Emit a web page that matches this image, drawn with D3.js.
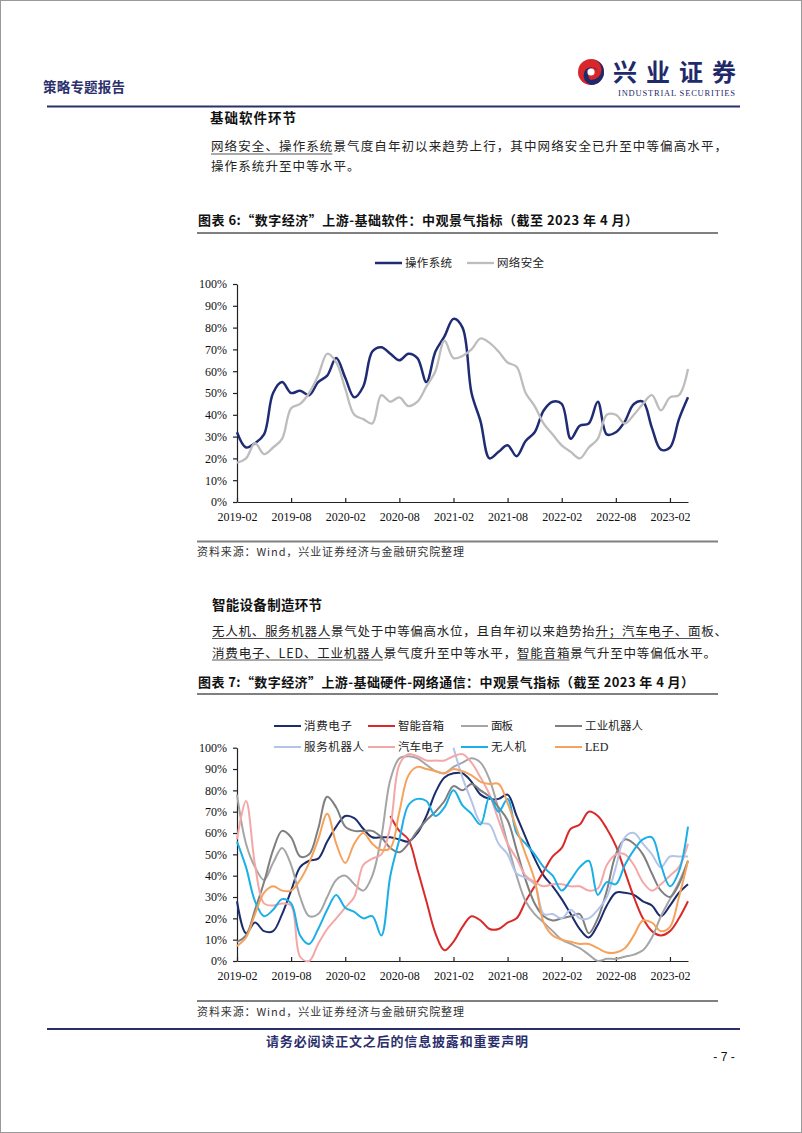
<!DOCTYPE html>
<html><head><meta charset="utf-8">
<script src="https://cdn.jsdelivr.net/npm/d3@7"></script>
<style>body{margin:0;background:#fff}svg{display:block}</style>
</head><body>
<script>
// ---------- data ----------
const months = d3.timeMonth.range(new Date(2019,1,1), new Date(2023,4,1)); // 2019-02 .. 2023-04
const tickLabels = ["2019-02","2019-08","2020-02","2020-08","2021-02","2021-08","2022-02","2022-08","2023-02"];
const tickIndex = [0,6,12,18,24,30,36,42,48];
const yTicks = [0,10,20,30,40,50,60,70,80,90,100];

// Chart 6
const osValues = [32,25,27,31,50,55,50,51,49,55,58,66,57,48,53,69,71,68,65,68,66,55,69,76,84,80,50,37,20,23,26,21,28,32,42,46,45,29,35,36,46,31,32,37,45,46,34,24,25,38,48];
const netSecValues = [18,20,27,22,25,29,43,45,50,58,68,64,52,40,38,36,49,46,48,44,46,53,60,74,66,67,70,75,73,69,64,62,50,44,36,31,26,23,20,25,29,40,40,36,40,45,49,42,48,49,61];

// Chart 7
const consumerElec = [28,13,18,14,14,22,33,44,47,48,56,63,68,67,62,58,58,58,57,56,60,68,79,86,88,88,84,78,76,76,78,68,58,48,40,35,29,22,15,11,17,26,32,32,31,28,26,21,26,32,36];
const smartSpeaker = [null,null,null,null,null,null,null,null,null,null,null,null,null,null,null,null,null,
  68,61,57,43,28,13,5,9,16,21,19,15,15,18,20,28,35,42,49,53,62,64,70,68,62,54,42,30,20,14,12,14,20,28];
const panel = [78,55,44,38,46,53,45,30,21,22,30,38,40,36,33,40,58,85,95,96,95,92,89,88,91,93,95,93,85,71,55,40,28,22,18,14,10,8,6,3,0,1,1,2,3,5,11,21,29,37,47];
const industrialRobot = [9,12,24,37,52,61,58,49,50,62,77,72,63,61,61,61,58,53,51,55,61,66,70,75,82,80,83,80,77,72,66,52,38,27,21,19,20,21,22,13,20,33,50,57,55,50,41,33,30,36,47];
const serviceRobot = [null,null,null,null,null,null,null,null,null,null,null,null,null,null,null,null,null,null,null,null,null,null,null,null,
  100,86,75,65,64,55,50,41,39,36,22,22,20,24,20,20,24,30,44,58,60,55,50,44,49,49,49];
const autoElec = [57,75,45,27,26,27,26,2,0,8,15,20,25,30,45,48,50,63,92,97,96,94,94,94,96,97,93,86,78,66,55,48,40,37,35,36,36,35,35,33,34,45,50,50,45,37,33,36,40,44,55];
const drone = [56,44,28,21,24,29,27,12,8,15,24,31,25,23,20,21,12,40,57,73,76,75,68,72,80,73,69,64,77,70,76,60,55,50,44,40,33,38,44,47,31,37,36,45,52,57,58,45,35,42,63];
const led = [7,11,22,32,35,33,33,38,46,57,69,55,46,55,60,55,52,53,70,87,91,90,89,88,90,89,87,84,83,83,74,62,50,38,18,12,10,9,8,8,6,4,4,6,12,19,18,14,16,30,47];

const chart6Names = ["操作系统","网络安全"];
const chart7Names = ["消费电子","智能音箱","面板","工业机器人","服务机器人","汽车电子","无人机","LED"];

// ---------- page ----------
const W=802,H=1133;
const CJK="'Noto Sans CJK SC','Noto Sans CJK JP',sans-serif";
const SERIF="'Liberation Serif','Times New Roman',serif";
const NAVY="#2b2f6b";
const svg=d3.select("body").append("svg").attr("width",W).attr("height",H);
svg.append("rect").attr("x",0.5).attr("y",0.5).attr("width",W-1).attr("height",H-1)
  .attr("fill","#fff").attr("stroke","#9a9a9a").attr("stroke-width",1);

function txt(x,y,s,o={}){
  const t=svg.append("text").attr("x",x).attr("y",y).text(s)
    .attr("font-family",o.family||CJK).attr("font-size",o.size||13)
    .attr("font-weight",o.weight||400).attr("fill",o.fill||"#1a1a1a");
  if(o.len) t.attr("textLength",o.len).attr("lengthAdjust","spacing");
  if(o.ls) t.attr("letter-spacing",o.ls);
  if(o.anchor) t.attr("text-anchor",o.anchor);
  return t;
}
function hline(x1,x2,y,c,w){svg.append("line").attr("x1",x1).attr("x2",x2).attr("y1",y).attr("y2",y).attr("stroke",c).attr("stroke-width",w);}
function underline(t,a,b,dy){
  const n=t.node();
  const x1=n.getStartPositionOfChar(a).x, x2=n.getEndPositionOfChar(b).x;
  const y=+t.attr("y")+dy;
  hline(x1,x2,y,"#555",1);
}

// header
txt(43,92,"策略专题报告",{size:13.5,weight:700,fill:NAVY,len:82});
// logo
svg.append("circle").attr("cx",591).attr("cy",72).attr("r",13).attr("fill","#d9262b");
svg.append("path").attr("d","M591,59 A13,13 0 0 1 591,85 A9.5,9.5 0 0 1 584,73 A7,7 0 0 1 597,71 A4,4 0 0 0 589,72 A6,6 0 0 0 591,80 A8.5,8.5 0 0 0 591,59 Z")
  .attr("fill","#1f2a6b");
svg.append("circle").attr("cx",591).attr("cy",72).attr("r",3.6).attr("fill","#fff");
txt(613,81,"兴业证券",{size:24,weight:700,fill:"#1f2a6b",len:123});
txt(618,96,"INDUSTRIAL SECURITIES",{family:SERIF,size:8.5,fill:"#1f2a6b",len:117});
hline(47,740,106.5,NAVY,2);

// section 1
txt(210,123,"基础软件环节",{size:13.5,weight:700,fill:"#111",len:86});
const p1=txt(211,150.5,"网络安全、操作系统景气度自年初以来趋势上行，其中网络安全已升至中等偏高水平，",{size:12.5,fill:"#222",len:516});
txt(211,170.5,"操作系统升至中等水平。",{size:12.5,fill:"#222",ls:1.1});
underline(p1,0,8,3.5);
txt(198,225,"图表 6:“数字经济”上游-基础软件：中观景气指标（截至 2023 年 4 月）",{size:13,weight:700,fill:"#111",len:440});
hline(197,718,233,"#808080",2);

// section 2
txt(212,610,"智能设备制造环节",{size:13.5,weight:700,fill:"#111",len:110});
const p2=txt(212,636,"无人机、服务机器人景气处于中等偏高水位，且自年初以来趋势抬升；汽车电子、面板、",{size:12.5,fill:"#222",len:515});
const p3=txt(212,657.5,"消费电子、LED、工业机器人景气度升至中等水平，智能音箱景气升至中等偏低水平。",{size:12.5,fill:"#222",len:504});
underline(p2,0,8,2.5); underline(p2,29,36,2.5);
underline(p3,0,13,2.5); underline(p3,24,27,2.5);
txt(198,686.5,"图表 7:“数字经济”上游-基础硬件-网络通信：中观景气指标（截至 2023 年 4 月）",{size:13,weight:700,fill:"#111",len:496});
hline(197,718,694,"#808080",2);

// source lines
hline(197,718,541.5,"#808080",2);
txt(197,555.5,"资料来源：Wind，兴业证券经济与金融研究院整理",{size:11,fill:"#333",len:267});
hline(197,718,1001,"#808080",2);
txt(197,1016,"资料来源：Wind，兴业证券经济与金融研究院整理",{size:11,fill:"#333",len:267});

// footer
hline(47,740,1029,NAVY,2);
txt(266,1045.5,"请务必阅读正文之后的信息披露和重要声明",{size:13,weight:700,fill:NAVY,len:262});
txt(724,1061,"- 7 -",{family:"'Liberation Sans',Arial,sans-serif",size:12,fill:"#111",anchor:"middle"});

// ---------- charts ----------
function drawChart(cfg){
  const x=d3.scaleLinear().domain([0,months.length-1]).range([237,688]);
  const y=d3.scaleLinear().domain([0,100]).range([cfg.bottom,cfg.top]);
  const g=svg.append("g");
  const ya=g.append("g").attr("transform","translate(237,0)")
    .call(d3.axisLeft(y).tickValues(yTicks).tickFormat(d=>d+"%").tickSizeInner(4).tickSizeOuter(0).tickPadding(6));
  const xa=g.append("g").attr("transform",`translate(0,${cfg.bottom})`)
    .call(d3.axisBottom(x).tickValues(tickIndex).tickFormat((d,i)=>tickLabels[i]).tickSizeInner(-4).tickSizeOuter(0).tickPadding(10));
  [ya,xa].forEach(a=>{
    a.selectAll("text").attr("font-family",SERIF).attr("font-size",12).attr("fill","#111");
    a.selectAll("path,line").attr("stroke","#222").attr("stroke-width",1.2);
  });
  const line=d3.line().defined(d=>d!=null).x((d,i)=>x(i)).y(d=>y(d)).curve(d3.curveCatmullRom.alpha(0.5));
  cfg.series.forEach(s=>{
    g.append("path").datum(s.values).attr("d",line).attr("fill","none")
      .attr("stroke",s.color).attr("stroke-width",s.width||2).attr("stroke-linejoin","round");
  });
  // legend
  cfg.series.forEach(s=>{
    const L=s.legend;
    g.append("line").attr("x1",L.x).attr("x2",L.x+27).attr("y1",L.y).attr("y2",L.y)
      .attr("stroke",s.color).attr("stroke-width",s.width||2);
    const t=g.append("text").attr("x",L.x+30).attr("y",L.y+4).text(s.name)
      .attr("font-family",s.name==="LED"?SERIF:CJK).attr("font-size",s.name==="LED"?12:11.5).attr("fill","#222");
    if(L.len) t.attr("textLength",L.len).attr("lengthAdjust","spacing");
  });
}

drawChart({top:284,bottom:502,series:[
  {name:chart6Names[0],values:osValues,color:"#1f2c74",width:2.5,legend:{x:375,y:263,len:47}},
  {name:chart6Names[1],values:netSecValues,color:"#bdbdbd",width:2.3,legend:{x:467,y:263,len:47}}
]});

const c7colors=["#1c2d6e","#d92a2a","#a5a5a5","#7f7f7f","#b4c4e8","#f4a7a7","#1aafe6","#f5a35c"];
const c7values=[consumerElec,smartSpeaker,panel,industrialRobot,serviceRobot,autoElec,drone,led];
const legendPos=[{x:274,y:726,len:48},{x:368,y:726,len:46},{x:461,y:726,len:22},{x:555,y:726,len:58},
                 {x:274,y:747,len:60},{x:368,y:747,len:46},{x:461,y:747,len:35},{x:555,y:747}];
drawChart({top:747.7,bottom:961,series:chart7Names.map((n,i)=>({name:n,values:c7values[i],color:c7colors[i],width:2,legend:legendPos[i]}))});
</script>
</body></html>
